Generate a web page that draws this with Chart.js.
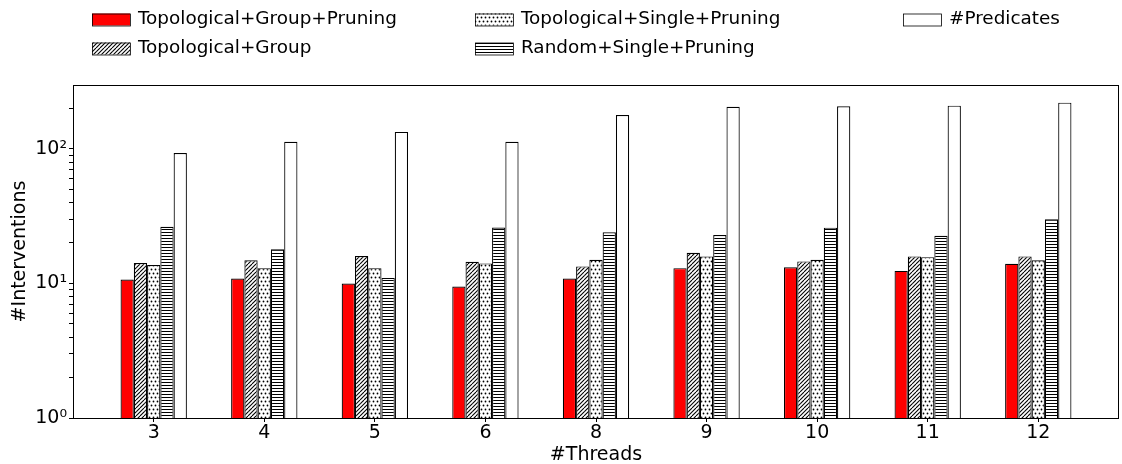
<!DOCTYPE html>
<html>
<head>
<meta charset="utf-8">
<script src="https://cdn.jsdelivr.net/npm/chart.js@4.4.0/dist/chart.umd.min.js"></script>
<style>
  html, body { margin: 0; padding: 0; background: #fff; }
  #wrap { width: 1122px; height: 464px; position: relative; }
</style>
</head>
<body>
<div id="wrap"><canvas id="grafico"></canvas></div>
<script>
// datos
var threads = ['3', '4', '5', '6', '8', '9', '10', '11', '12'];
var topoGroupPruning = [10.7, 10.9, 10.0, 9.5, 10.9, 13.0, 13.2, 12.4, 14.0];
var topoGroup = [14.2, 14.9, 16.0, 14.5, 13.4, 16.9, 14.6, 15.9, 15.9];
var topoSinglePruning = [13.7, 13.0, 13.0, 14.1, 15.0, 15.9, 15.0, 15.7, 14.9];
var randomSinglePruning = [26.4, 18.0, 11.0, 26.1, 24.0, 22.9, 26.0, 22.6, 30.0];
var predicates = [93.4, 113, 134, 113, 179, 206, 208, 210, 221];
var yMajorTicks = [1, 10, 100];
var yTickLabels = ['10\u2070', '10\u00b9', '10\u00b2'];

function patron(tipo) {
    var c = document.createElement('canvas');
    c.width = 8; c.height = (tipo === 'horiz') ? 6 : 8;
    var g = c.getContext('2d');
    g.fillStyle = '#fff';
    g.fillRect(0, 0, c.width, c.height);
    g.strokeStyle = '#000';
    g.fillStyle = '#000';
    g.lineWidth = 1.1;
    if (tipo === 'diag') {
        for (var k = -2; k <= 3; k++) {
            g.beginPath();
            g.moveTo(k * 4, 8);
            g.lineTo(k * 4 + 8, 0);
            g.stroke();
        }
    } else if (tipo === 'dots') {
        [[1.5, 1.5], [5.5, 1.5], [3.5, 5.5], [7.5, 5.5]].forEach(function (p) {
            g.beginPath();
            g.arc(p[0], p[1], 0.9, 0, Math.PI * 2);
            g.fill();
        });
        g.beginPath();
        g.arc(-0.5, 5.5, 0.9, 0, Math.PI * 2);
        g.fill();
    } else if (tipo === 'horiz') {
        g.fillRect(0, 1, 8, 1);
        g.fillRect(0, 4, 8, 1);
    }
    return g.createPattern(c, 'repeat');
}

function puntos(valores) {
    return valores.map(function (v, i) { return { x: i, y: v }; });
}

Chart.defaults.font.family = "'DejaVu Sans', sans-serif";
Chart.defaults.color = '#000';

var marco = {
    id: 'marco',
    afterDraw: function (chart) {
        var ctx = chart.ctx, a = chart.chartArea;
        ctx.save();
        ctx.strokeStyle = '#000';
        ctx.lineWidth = 1;
        ctx.strokeRect(a.left + 0.5, a.top + 0.5, a.right - a.left - 1, a.bottom - a.top);

        // leyenda en 3 columnas (orden por columnas)
        var colX = [92, 475, 903];
        var rowY = [19.5, 48.5];
        ctx.font = "18.4px 'DejaVu Sans'";
        ctx.textBaseline = 'middle';
        ctx.textAlign = 'left';
        chart.data.datasets.forEach(function (ds, i) {
            var x = colX[Math.floor(i / 2)];
            var y = rowY[i % 2];
            ctx.fillStyle = ds.backgroundColor;
            ctx.fillRect(x, y - 6, 38, 12);
            ctx.strokeStyle = '#000';
            ctx.lineWidth = 0.8;
            ctx.strokeRect(x + 0.5, y - 6 + 0.5, 38, 12);
            ctx.fillStyle = '#000';
            ctx.fillText(ds.label, x + 46, y);
        });
        ctx.restore();
    }
};

var ctx = document.getElementById('grafico').getContext('2d');
var myChart = new Chart(ctx, {
    type: 'bar',
    data: {
        datasets: [{
            label: 'Topological+Group+Pruning',
            data: puntos(topoGroupPruning),
            backgroundColor: '#ff0000'
        }, {
            label: 'Topological+Group',
            data: puntos(topoGroup),
            backgroundColor: patron('diag')
        }, {
            label: 'Topological+Single+Pruning',
            data: puntos(topoSinglePruning),
            backgroundColor: patron('dots')
        }, {
            label: 'Random+Single+Pruning',
            data: puntos(randomSinglePruning),
            backgroundColor: patron('horiz')
        }, {
            label: '#Predicates',
            data: puntos(predicates),
            backgroundColor: '#ffffff'
        }]
    },
    options: {
        responsive: true,
        maintainAspectRatio: false,
        animation: false,
        layout: { padding: { top: 85, right: 3, left: 0, bottom: 0 } },
        datasets: {
            bar: {
                borderColor: '#000',
                borderWidth: 1.2,
                categoryPercentage: 0.6,
                barPercentage: 1.0
            }
        },
        plugins: {
            legend: { display: false },
            tooltip: { enabled: false }
        },
        scales: {
            x: {
                type: 'linear',
                min: -0.73,
                max: 8.73,
                offset: false,
                afterFit: function (s) { s.height = 46; },
                afterBuildTicks: function (s) {
                    s.ticks = threads.map(function (t, i) { return { value: i }; });
                },
                ticks: {
                    font: { size: 19 },
                    padding: 0,
                    maxRotation: 0,
                    autoSkip: false,
                    callback: function (v) { return threads[v]; }
                },
                grid: { drawOnChartArea: false, offset: false, tickLength: 4, color: '#000' },
                border: { display: false },
                title: { display: true, text: '#Threads', font: { size: 19 }, padding: { top: 0, bottom: -2 } }
            },
            y: {
                type: 'logarithmic',
                min: 1,
                max: 299,
                afterFit: function (s) { s.width = 73; },
                afterBuildTicks: function (s) {
                    var t = [];
                    [1, 10, 100].forEach(function (d) {
                        for (var m = 1; m <= 9; m++) {
                            if (d * m <= s.max) t.push({ value: d * m });
                        }
                    });
                    s.ticks = t;
                },
                ticks: {
                    font: { size: 19 },
                    padding: 2,
                    autoSkip: false,
                    callback: function (v) {
                        var k = yMajorTicks.indexOf(v);
                        return k >= 0 ? yTickLabels[k] : '';
                    }
                },
                grid: { drawOnChartArea: false, tickLength: 4, color: '#000' },
                border: { display: false },
                title: { display: true, text: '#Interventions', font: { size: 19 }, padding: { top: 9, bottom: 0 } }
            }
        }
    },
    plugins: [marco]
});
</script>
</body>
</html>
